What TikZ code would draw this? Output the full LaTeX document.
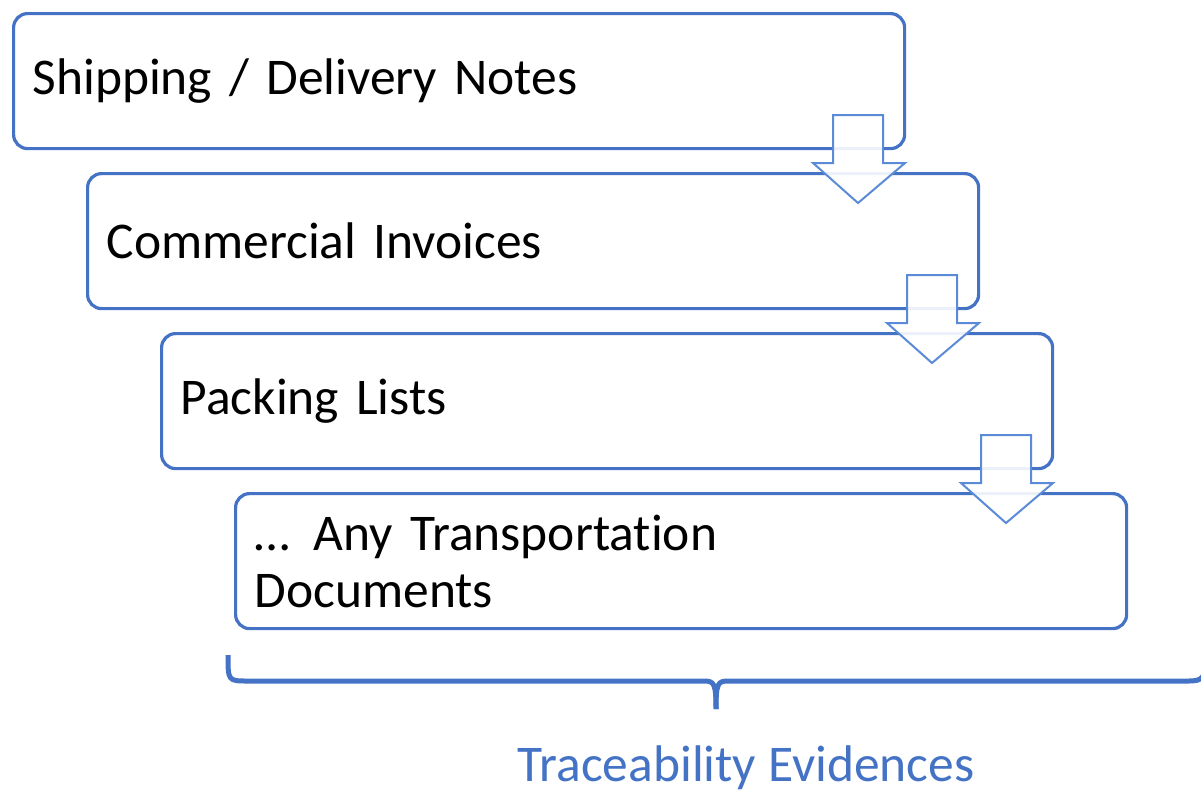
\documentclass[tikz,border=0pt]{standalone}
\usepackage{fontspec}
\setmainfont{Carlito}
\definecolor{boxblue}{HTML}{4472C4}
\definecolor{arrblue}{HTML}{5B8BD8}
\newcommand{\calfont}{\fontsize{51.5}{57}\selectfont\spaceskip=0.23em\relax}
\begin{document}
\begin{tikzpicture}[x=1pt,y=-1pt,
  docbox/.style={draw=boxblue,line width=3.2pt,rounded corners=14pt,fill=white,
    minimum width=891pt,minimum height=135pt,anchor=north west,inner xsep=19pt,
    text width=853pt,font=\calfont},
  flowarrow/.style={draw=arrblue,line width=2pt,fill=white,fill opacity=0.9,line join=miter},
  bracestyle/.style={draw=boxblue,line width=5pt,line cap=butt,line join=round},
  evlabel/.style={text=boxblue,font=\calfont,anchor=base,inner sep=0pt}]
\useasboundingbox (0,0) rectangle (1201,793);
\clip (0,0) rectangle (1201,793);
\node[docbox] (b1) at (12,12) {Shipping / Delivery Notes};
\node[docbox] (b2) at (86,172) {Commercial Invoices};
\node[docbox] (b3) at (160,332) {Packing Lists};
\node[docbox] (b4) at (234,492) {\dots\hspace{0.46em}Any Transportat\kern0pt ion\\Documents};
\foreach \dx/\dy/\n in {0/0/a1,74/160/a2,148/320/a3}{
  \draw[flowarrow,shift={(\dx,\dy)}] (833,115) -- (883,115) -- (883,163) -- (905,163)
    -- (858,203) -- (813,163) -- (833,163) -- cycle;
}
\coordinate (brL) at (228,655);
\coordinate (brM) at (716,709);
\coordinate (brR) at (1208,650);
\draw[bracestyle] (brL) .. controls (228,681) and (228,681) .. (248,681) -- (704,681)
  .. controls (714,681) and (716,683) .. (brM);
\draw[bracestyle] (brM) .. controls (716,683) and (718,681) .. (728,681) -- (1188,681)
  .. controls (1203,681) and (1206,679) .. (brR);
\node[evlabel] (ev) at (746,781) {Traceability Evidences};
\end{tikzpicture}
\end{document}
